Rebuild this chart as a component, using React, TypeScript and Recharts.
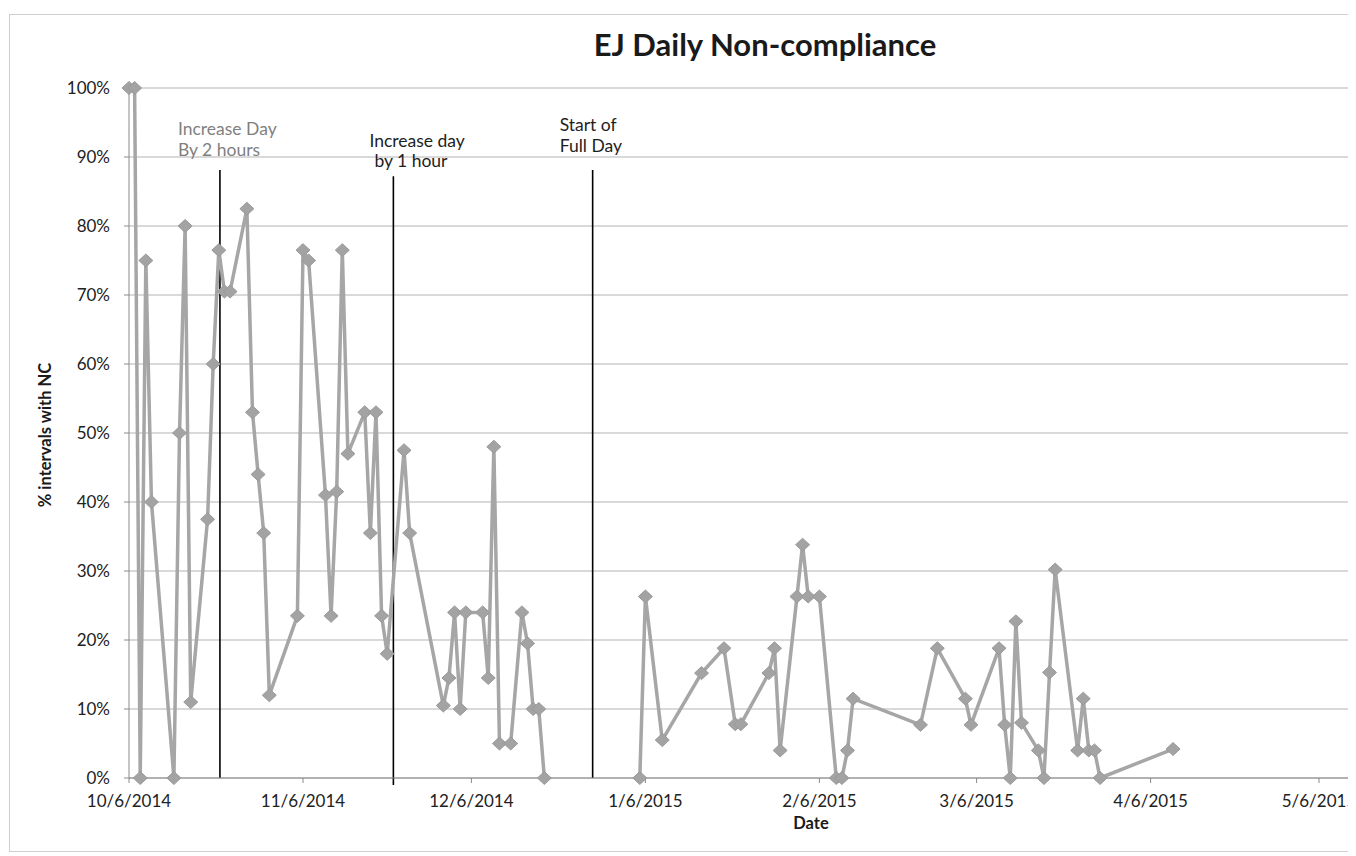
import React from "react";
import { CartesianGrid, Line, LineChart, ReferenceLine, XAxis, YAxis } from "recharts";

// observation dates and % of intervals with non-compliance
// (null = winter break, no observations, line is broken there)
const obsDates = [
  "2014-10-06", "2014-10-07", "2014-10-08", "2014-10-09", "2014-10-10",
  "2014-10-14", "2014-10-15", "2014-10-16", "2014-10-17", "2014-10-20",
  "2014-10-21", "2014-10-22", "2014-10-23", "2014-10-24", "2014-10-27",
  "2014-10-28", "2014-10-29", "2014-10-30", "2014-10-31", "2014-11-05",
  "2014-11-06", "2014-11-07", "2014-11-10", "2014-11-11", "2014-11-12",
  "2014-11-13", "2014-11-14", "2014-11-17", "2014-11-18", "2014-11-19",
  "2014-11-20", "2014-11-21", "2014-11-24", "2014-11-25", "2014-12-01",
  "2014-12-02", "2014-12-03", "2014-12-04", "2014-12-05", "2014-12-08",
  "2014-12-09", "2014-12-10", "2014-12-11", "2014-12-13", "2014-12-15",
  "2014-12-16", "2014-12-17", "2014-12-18", "2014-12-19", "2014-12-27",
  "2015-01-05", "2015-01-06", "2015-01-09", "2015-01-16", "2015-01-20",
  "2015-01-22", "2015-01-23", "2015-01-28", "2015-01-29", "2015-01-30",
  "2015-02-02", "2015-02-03", "2015-02-04", "2015-02-06", "2015-02-09",
  "2015-02-10", "2015-02-11", "2015-02-12", "2015-02-24", "2015-02-27",
  "2015-03-04", "2015-03-05", "2015-03-10", "2015-03-11", "2015-03-12",
  "2015-03-13", "2015-03-14", "2015-03-17", "2015-03-18", "2015-03-19",
  "2015-03-20", "2015-03-24", "2015-03-25", "2015-03-26", "2015-03-27",
  "2015-03-28", "2015-04-10",
];

const ncPercent = [
  100, 100, 0, 75, 40,
  0, 50, 80, 11, 37.5,
  60, 76.5, 70.5, 70.5, 82.5,
  53, 44, 35.5, 12, 23.5,
  76.5, 75, 41, 23.5, 41.5,
  76.5, 47, 53, 35.5, 53,
  23.5, 18, 47.5, 35.5, 10.5,
  14.5, 24, 10, 24, 24,
  14.5, 48, 5, 5, 24,
  19.5, 10, 10, 0, null,
  0, 26.3, 5.5, 15.2, 18.8,
  7.8, 7.8, 15.2, 18.8, 4,
  26.3, 33.8, 26.3, 26.3, 0,
  0, 4, 11.5, 7.7, 18.8,
  11.5, 7.7, 18.8, 7.7, 0,
  22.7, 8, 4, 0, 15.3,
  30.2, 4, 11.5, 4, 4,
  0, 4.2,
];

const tickDates = [
  "2014-10-06", "2014-11-06", "2014-12-06", "2015-01-06",
  "2015-02-06", "2015-03-06", "2015-04-06", "2015-05-06", "2015-06-06",
];
const tickLabels = [
  "10/6/2014", "11/6/2014", "12/6/2014", "1/6/2015",
  "2/6/2015", "3/6/2015", "4/6/2015", "5/6/2015", "6/6/2015",
];
const yTicks = [0, 10, 20, 30, 40, 50, 60, 70, 80, 90, 100];

// phase changes: day offset of the marker line and its note
const phaseDays = [16.2, 47.1, 82.6];
const phaseTops = [88.1, 87.2, 88.1];
const phaseNotes = [
  ["Increase Day", "By 2 hours"],
  ["Increase day", "by 1 hour"],
  ["Start of", "Full Day"],
];

const FONT = "Lato, 'Open Sans', sans-serif";
const origin = Date.UTC(2014, 9, 6);
const dayOf = (s: string) => {
  const [y, m, d] = s.split("-").map(Number);
  return (Date.UTC(y, m - 1, d) - origin) / 86400000;
};

const data = obsDates.map((d, i) => ({ day: dayOf(d), pct: ncPercent[i] }));
const tickDays = tickDates.map(dayOf);

const noteStyle = [
  { color: "#7f7f7f", dx: [-42, -42], dy: [-35, -14] },
  { color: "#1e1e1e", dx: [-24, -19], dy: [-29, -9] },
  { color: "#1e1e1e", dx: [-33, -33], dy: [-39, -18] },
];

const Diamond = (props: any) => {
  const { cx, cy, value } = props;
  if (cx == null || cy == null || value == null) return null;
  return (
    <polygon
      points={`${cx},${cy - 6.5} ${cx + 7},${cy} ${cx},${cy + 6.5} ${cx - 7},${cy}`}
      fill="#a3a3a3"
      stroke="#9a9a9a"
      strokeWidth={1}
    />
  );
};

const noteLabel = (idx: number) => (props: any) => {
  const vb = props.viewBox || {};
  const x = vb.x ?? 0;
  const top = Math.min(vb.y ?? 0, (vb.y ?? 0) + (vb.height ?? 0));
  const st = noteStyle[idx];
  return (
    <text fill={st.color} fontSize={17.5} fontFamily={FONT}>
      {phaseNotes[idx].map((line, i) => (
        <tspan key={i} x={x + st.dx[i]} y={top + st.dy[i]}>
          {line}
        </tspan>
      ))}
    </text>
  );
};

export default function App() {
  return (
    <div style={{ position: "relative", width: 1348, height: 848, overflow: "hidden", background: "#fff" }}>
      <style>{"html,body{overflow:hidden}"}</style>
      <div
        style={{
          position: "absolute",
          left: 1,
          top: 6,
          width: 1600,
          height: 836,
          border: "1px solid #cfcfcf",
        }}
      />
      <LineChart
        width={1520}
        height={848}
        data={data}
        margin={{ top: 80, right: 35, left: 0, bottom: 18 }}
        style={{ position: "absolute", left: 0, top: 0 }}
      >
        <CartesianGrid vertical={false} stroke="#b3b3b3" strokeWidth={1} />
        <XAxis
          dataKey="day"
          type="number"
          domain={[0, 243]}
          ticks={tickDays}
          tickFormatter={(v: number) => tickLabels[tickDays.indexOf(v)] ?? ""}
          height={60}
          stroke="#8a8a8a"
          tickSize={5}
          tickMargin={12}
          tick={{ fill: "#222", fontSize: 17, fontFamily: FONT }}
          interval={0}
        />
        <YAxis
          type="number"
          domain={[0, 100]}
          ticks={yTicks}
          tickFormatter={(v: number) => `${v}%`}
          width={121}
          stroke="#8a8a8a"
          tickSize={5}
          tickMargin={14}
          tick={{ fill: "#222", fontSize: 17, fontFamily: FONT }}
          interval={0}
        />
        {phaseDays.map((d, i) => (
          <ReferenceLine
            key={i}
            segment={[
              { x: d, y: i === 1 ? -1 : 0 },
              { x: d, y: phaseTops[i] },
            ]}
            stroke="#000"
            strokeWidth={1.6}
            ifOverflow="visible"
            label={noteLabel(i)}
          />
        ))}
        <Line
          type="linear"
          dataKey="pct"
          stroke="#a6a6a6"
          strokeWidth={3.5}
          dot={<Diamond />}
          activeDot={false}
          connectNulls={false}
          isAnimationActive={false}
        />
      </LineChart>
      <svg
        width={1348}
        height={848}
        style={{ position: "absolute", left: 0, top: 0, pointerEvents: "none" }}
      >
        <text x={757} y={48} textAnchor="middle" fontSize={31} fontWeight="bold" fill="#1a1a1a" fontFamily={FONT}>
          EJ Daily Non-compliance
        </text>
        <text
          x={43}
          y={427}
          textAnchor="middle"
          fontSize={16.5}
          fontWeight="bold"
          fill="#1a1a1a"
          fontFamily={FONT}
          transform="rotate(-90 43 427)"
        >
          % intervals with NC
        </text>
        <text x={803} y={821} textAnchor="middle" fontSize={16.5} fontWeight="bold" fill="#1a1a1a" fontFamily={FONT}>
          Date
        </text>
      </svg>
    </div>
  );
}
